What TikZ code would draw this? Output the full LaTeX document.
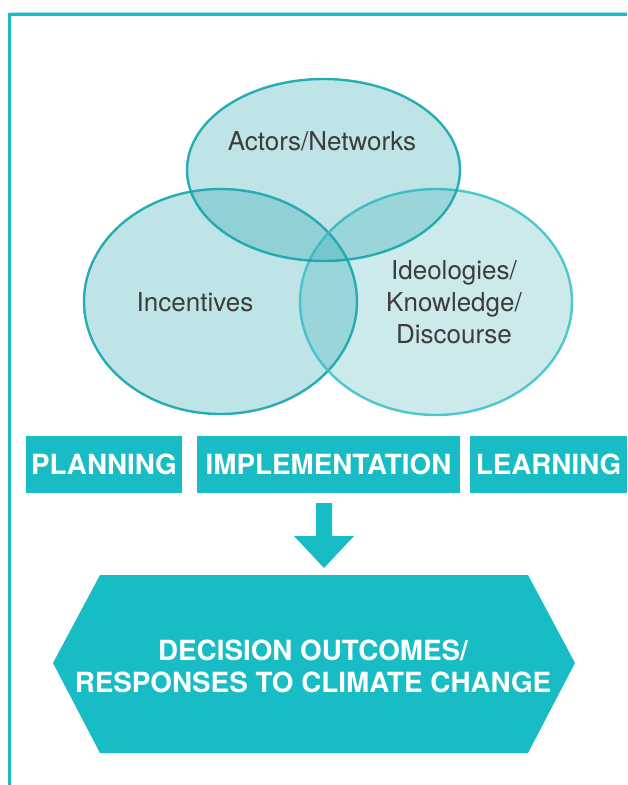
\documentclass[tikz,border=0pt]{standalone}
\usepackage{fontspec}
\setmainfont{TeX Gyre Heros}
\definecolor{teal1}{RGB}{23,188,196}
\definecolor{circfill}{RGB}{40,165,175}
\definecolor{circline}{RGB}{20,165,172}
\definecolor{circline2}{RGB}{60,195,202}
\definecolor{txtgray}{RGB}{60,60,60}
\begin{document}
\begin{tikzpicture}[x=1pt,y=-1pt,
  venn/.style={fill=circfill,fill opacity=0.3,draw=circline,draw opacity=0.9,line width=2.4pt},
  venntext/.style={text=txtgray,font=\fontsize{26}{32}\selectfont,align=center},
  barbox/.style={fill=teal1,text=white,font=\fontsize{27.8}{32}\bfseries\selectfont,inner sep=0pt},
  hextext/.style={text=white,font=\fontsize{27.8}{32}\bfseries\selectfont,align=center}]
\useasboundingbox (0,0) rectangle (627,785);
% frame
\draw[teal1!40,line width=1pt] (9.5,12.7) -- (627,12.7);
\draw[teal1,line width=3pt] (9.5,785) -- (9.5,14.5) -- (627,14.5);
% venn
\path[venn] (220.5,301.5) ellipse [x radius=136.5,y radius=112.5];
\path[venn,fill opacity=0.24,draw=circline2] (436,302) ellipse [x radius=136,y radius=113];
\path[venn] (323.5,170) ellipse [x radius=136.5,y radius=91];
\node[venntext] (actors) at (322,141) {Actors/Networks};
\node[venntext] (incent) at (195,302) {Incentives};
\node[venntext] (ideol) at (454,302) {Ideologies/\\Knowledge/\\Discourse};
% bars
\node[barbox,minimum width=156,minimum height=57] (plan) at (104,464.5) {PLANNING};
\node[barbox,minimum width=263,minimum height=57] (impl) at (328.5,464.5) {IMPLEMENTATION};
\node[barbox,minimum width=157,minimum height=57] (learn) at (548.5,464.5) {LEARNING};
% arrow
\coordinate (arrtop) at (324,503);
\coordinate (arrtip) at (324,568);
\fill[teal1] (316,503) -- (332,503) -- (332,536) -- (354,536) -- (arrtip) -- (294,536) -- (316,536) -- cycle;
% hexagon
\fill[teal1] (100,575) -- (528,575) -- (575,663) -- (528,753) -- (100,753) -- (53,663) -- cycle;
\node[hextext] (outc) at (313,666) {DECISION OUTCOMES/\\RESPONSES TO CLIMATE CHANGE};
\end{tikzpicture}
\end{document}
